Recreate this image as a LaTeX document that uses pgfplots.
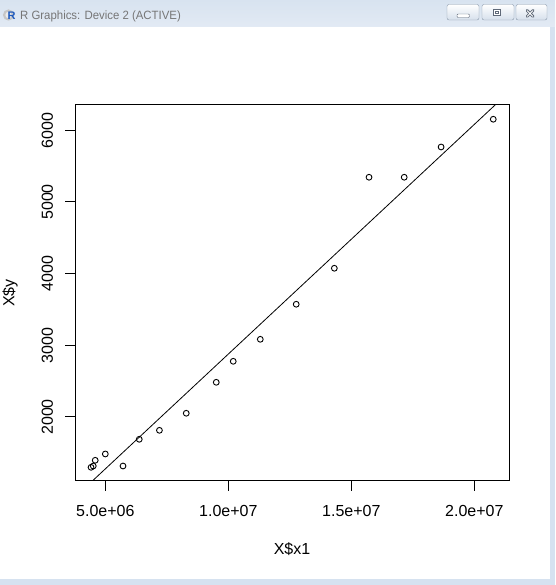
\documentclass[border=0pt]{standalone}
\usepackage{fontspec}
\setmainfont{Liberation Sans}
\usepackage{pgfplots}
\pgfplotsset{compat=1.18}

\definecolor{framebg}{RGB}{214,226,240}
\definecolor{titletop}{RGB}{216,227,240}
\definecolor{titlebot}{RGB}{226,234,244}
\definecolor{titlegray}{RGB}{118,118,118}
\definecolor{btnborder}{RGB}{138,152,170}
\definecolor{btnbottom}{RGB}{214,224,236}
\definecolor{glyph}{RGB}{95,105,120}
\definecolor{rblue}{RGB}{30,90,190}

\begin{document}
\begin{tikzpicture}[x=1pt,y=1pt]
% window frame and client area
\fill[framebg] (0,0) rectangle (555,585);
\fill[white] (0,6) rectangle (550,558);
\shade[top color=titletop, bottom color=titlebot] (0,558) rectangle (555,585);
% window icon and caption
\fill[gray!45] (8.5,570) circle (5.6);
\fill[white!85!gray] (8.5,570) circle (3.2);
\node[font=\bfseries\fontsize{11}{11}\selectfont, text=rblue, inner sep=0] at (11.5,569) {R};
\node[anchor=base west, text=titlegray, font=\fontsize{12}{14}\selectfont, inner sep=0, xscale=0.95] at (20,565) {R Graphics: Device 2 (ACTIVE)};
% caption buttons
\foreach \a/\b in {447/479, 482/514, 516/547}
  \draw[rounded corners=2, draw=btnborder, top color=white, bottom color=btnbottom] (\a,565) rectangle (\b,580.5);
\draw[rounded corners=1, draw=glyph, fill=white] (457,567.5) rectangle (469.5,571);
\draw[draw=glyph, fill=white, line width=0.9] (493.3,569.3) rectangle (500.7,575.7);
\draw[draw=glyph, line width=0.9] (495.5,571.5) rectangle (498.5,573.5);
\draw[line width=2.8, glyph, line cap=round] (527,568.5)--(533,574.5) (527,574.5)--(533,568.5);
\draw[line width=1.0, white, line cap=round] (527.3,568.8)--(532.7,574.2) (527.3,574.2)--(532.7,568.8);

\begin{axis}[
  at={(75pt,104pt)}, anchor=south west,
  scale only axis, width=434pt, height=376pt,
  xmin=3.768e6, xmax=21.41e6, ymin=1107, ymax=6353,
  xtick={5e6,1e7,1.5e7,2e7},
  xticklabels={5.0e+06,1.0e+07,1.5e+07,2.0e+07},
  ytick={2000,3000,4000,5000,6000},
  yticklabels={2000,3000,4000,5000,6000},
  scaled x ticks=false, scaled y ticks=false,
  tick align=outside, tick pos=left,
  major tick length=9.6pt,
  every tick/.style={black, line width=1pt},
  axis line style={line width=1pt},
  tick label style={font=\fontsize{16}{19}\selectfont, inner sep=0pt},
  xticklabel style={anchor=north},
  xticklabel shift=14.4pt,
  yticklabel style={rotate=90, anchor=south},
  yticklabel shift=12.1pt,
  xlabel={X\$x1}, ylabel={X\$y},
  every axis x label/.style={at={(axis description cs:0.5,-0.1968)}, anchor=base, font=\fontsize{16}{19}\selectfont, inner sep=0pt},
  every axis y label/.style={at={(axis description cs:-0.1394,0.5)}, rotate=90, anchor=base, font=\fontsize{16}{19}\selectfont, inner sep=0pt},
]
% observations
\addplot[only marks, mark=o, mark size=2.9pt, mark options={line width=0.9pt, black}] coordinates {
  (4.42e6,1298) (4.51e6,1316) (4.59e6,1396) (5.00e6,1484) (5.72e6,1316)
  (6.38e6,1689) (7.20e6,1814) (8.29e6,2052) (9.51e6,2484) (10.20e6,2777)
  (11.30e6,3084) (12.76e6,3573) (14.31e6,4075) (15.72e6,5345) (17.15e6,5345)
  (18.65e6,5767) (20.77e6,6154)
};
% fitted line y = -326 + 3.204e-4 x, clipped to the plot region
\addplot[black, line width=0.8pt] coordinates {(3.768e6,881) (21.41e6,6534)};
\end{axis}
\pgfresetboundingbox
\useasboundingbox (0,0) rectangle (555,585);
\end{tikzpicture}
\end{document}
